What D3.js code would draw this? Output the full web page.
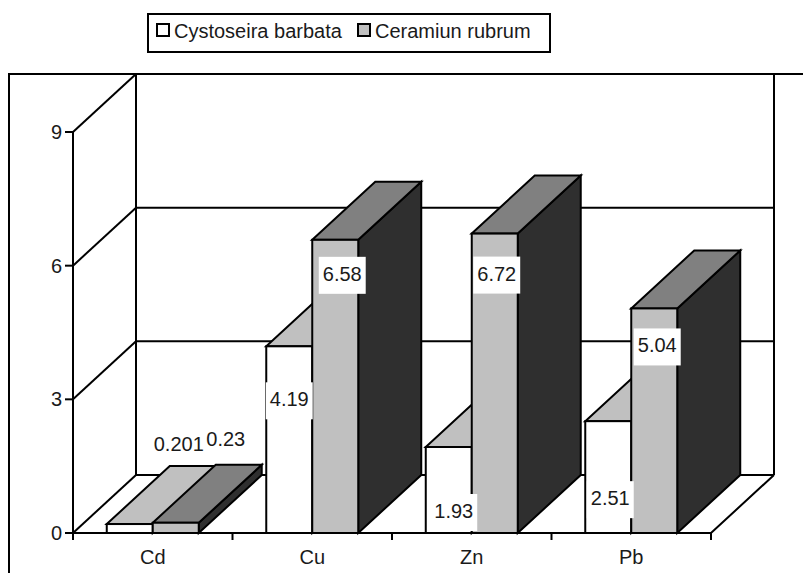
<!DOCTYPE html>
<html>
<head>
<meta charset="utf-8">
<script src="https://cdn.jsdelivr.net/npm/d3@7"></script>
<style>
  html, body { margin: 0; padding: 0; background: #fff; }
  svg { display: block; }
  text { font-family: "Liberation Sans", Arial, sans-serif; fill: #1a1a1a; }
</style>
</head>
<body>
<svg id="chart" width="803" height="573"></svg>
<script>
// Metal content in two algae species
const categories = ["Cd", "Cu", "Zn", "Pb"];
const seriesNames = ["Cystoseira barbata", "Ceramiun rubrum"];
const cystoseiraValues = [0.201, 4.19, 1.93, 2.51];
const ceramiumValues = [0.23, 6.58, 6.72, 5.04];
const valueLabels = [["0.201", "4.19", "1.93", "2.51"], ["0.23", "6.58", "6.72", "5.04"]];
const yTicks = [0, 3, 6, 9];

const seriesValues = [cystoseiraValues, ceramiumValues];

// ---- layout ----
const svg = d3.select("#chart");
const FONT = 20;
const DX = 63, DY = -58;               // oblique depth of the 3-D box
const y = d3.scaleLinear().domain([0, 9]).range([533, 132]);
const x = d3.scaleBand().domain(categories).range([73, 711]);
const xs = d3.scaleBand().domain(d3.range(seriesNames.length))
  .range([0, x.bandwidth()]).paddingInner(0).paddingOuter(0.734);

// face colours per series: front, top, side
const faces = [
  { front: "#ffffff", top: "#c0c0c0", side: "#c0c0c0" },
  { front: "#c0c0c0", top: "#808080", side: "#2f2f2f" }
];

// label placement relative to the top-centre of each bar's front face
const labelNudge = [
  [[49, -73], [0, 60], [5, 71], [2, 84]],
  [[50, -77], [7, 41], [2, 47], [3, 44]]
];

const line = d3.line();
function addText(g, str, tx, ty, anchor) {
  return g.append("text")
    .attr("x", tx).attr("y", ty)
    .attr("text-anchor", anchor)
    .style("font-size", FONT + "px")
    .text(str);
}

// ---- chart frame ----
svg.append("rect")
  .attr("x", 9).attr("y", 74).attr("width", 900).attr("height", 700)
  .attr("fill", "none").attr("stroke", "#000").attr("stroke-width", 2);

const walls = svg.append("g").attr("stroke", "#000").attr("stroke-width", 2).attr("fill", "none");
const x0 = x.range()[0], x1 = x.range()[1];
const y0 = y(0), yTop = y(9);

// back wall edges and gridlines
yTicks.forEach(t => {
  walls.append("path").attr("d", line([[x0 + DX, y(t) + DY], [x1 + DX, y(t) + DY]]));
  walls.append("path").attr("d", line([[x0, y(t)], [x0 + DX, y(t) + DY]]));
});
walls.append("path").attr("d", line([[x0 + DX, y0 + DY], [x0 + DX, yTop + DY]]));
walls.append("path").attr("d", line([[x1 + DX, y0 + DY], [x1 + DX, yTop + DY]]));
// floor front and right edges
walls.append("path").attr("d", line([[x0, y0], [x1, y0], [x1 + DX, y0 + DY]]));

// value axis
walls.append("path").attr("d", line([[x0, yTop], [x0, y0 + 7]]));
yTicks.forEach(t => {
  walls.append("path").attr("d", line([[x0 - 8, y(t)], [x0, y(t)]]));
});
const axisText = svg.append("g");
yTicks.forEach(t => {
  addText(axisText, String(t), x0 - 11, y(t) + 7, "end");
});

// category ticks and labels
categories.concat([null]).forEach((c, i) => {
  const cx = c === null ? x1 : x(c);
  if (i > 0) walls.append("path").attr("d", line([[cx, y0], [cx, y0 + 7]]));
});
categories.forEach(c => {
  addText(axisText, c, x(c) + x.bandwidth() / 2, 564, "middle");
});

// ---- bars ----
const bars = svg.append("g").attr("stroke", "#000").attr("stroke-width", 2).attr("stroke-linejoin", "miter");
categories.forEach((c, ci) => {
  seriesValues.forEach((vals, si) => {
    const bx = x(c) + xs(si), w = xs.bandwidth();
    const top = y(vals[ci]), bot = y(0);
    const col = faces[si];
    bars.append("path").attr("fill", col.side).attr("d", line([
      [bx + w, top], [bx + w + DX, top + DY], [bx + w + DX, bot + DY], [bx + w, bot]
    ]) + "Z");
    bars.append("path").attr("fill", col.top).attr("d", line([
      [bx, top], [bx + w, top], [bx + w + DX, top + DY], [bx + DX, top + DY]
    ]) + "Z");
    bars.append("rect").attr("fill", col.front)
      .attr("x", bx).attr("y", top).attr("width", w).attr("height", bot - top);
  });
});

// ---- data labels ----
const labelBoxes = svg.append("g");
const labelTexts = svg.append("g");
categories.forEach((c, ci) => {
  seriesValues.forEach((vals, si) => {
    const cx = x(c) + xs(si) + xs.bandwidth() / 2 + labelNudge[si][ci][0];
    const base = y(vals[ci]) + labelNudge[si][ci][1];
    const t = addText(labelTexts, valueLabels[si][ci], cx, base, "middle");
    const tw = t.node().getBBox().width;
    labelBoxes.append("rect")
      .attr("x", cx - tw / 2 - 4).attr("y", base - 24)
      .attr("width", tw + 8).attr("height", 37)
      .attr("fill", "#fff");
  });
});

// ---- legend ----
const legend = svg.append("g");
legend.append("rect")
  .attr("x", 148).attr("y", 14).attr("width", 402).attr("height", 38)
  .attr("fill", "#fff").attr("stroke", "#000").attr("stroke-width", 2);
const legendX = [157, 358];
seriesNames.forEach((name, i) => {
  legend.append("rect")
    .attr("x", legendX[i]).attr("y", 24).attr("width", 12).attr("height", 12)
    .attr("fill", faces[i].front).attr("stroke", "#000").attr("stroke-width", 2);
  addText(legend, name, legendX[i] + 17, 37.5, "start");
});
</script>
</body>
</html>
